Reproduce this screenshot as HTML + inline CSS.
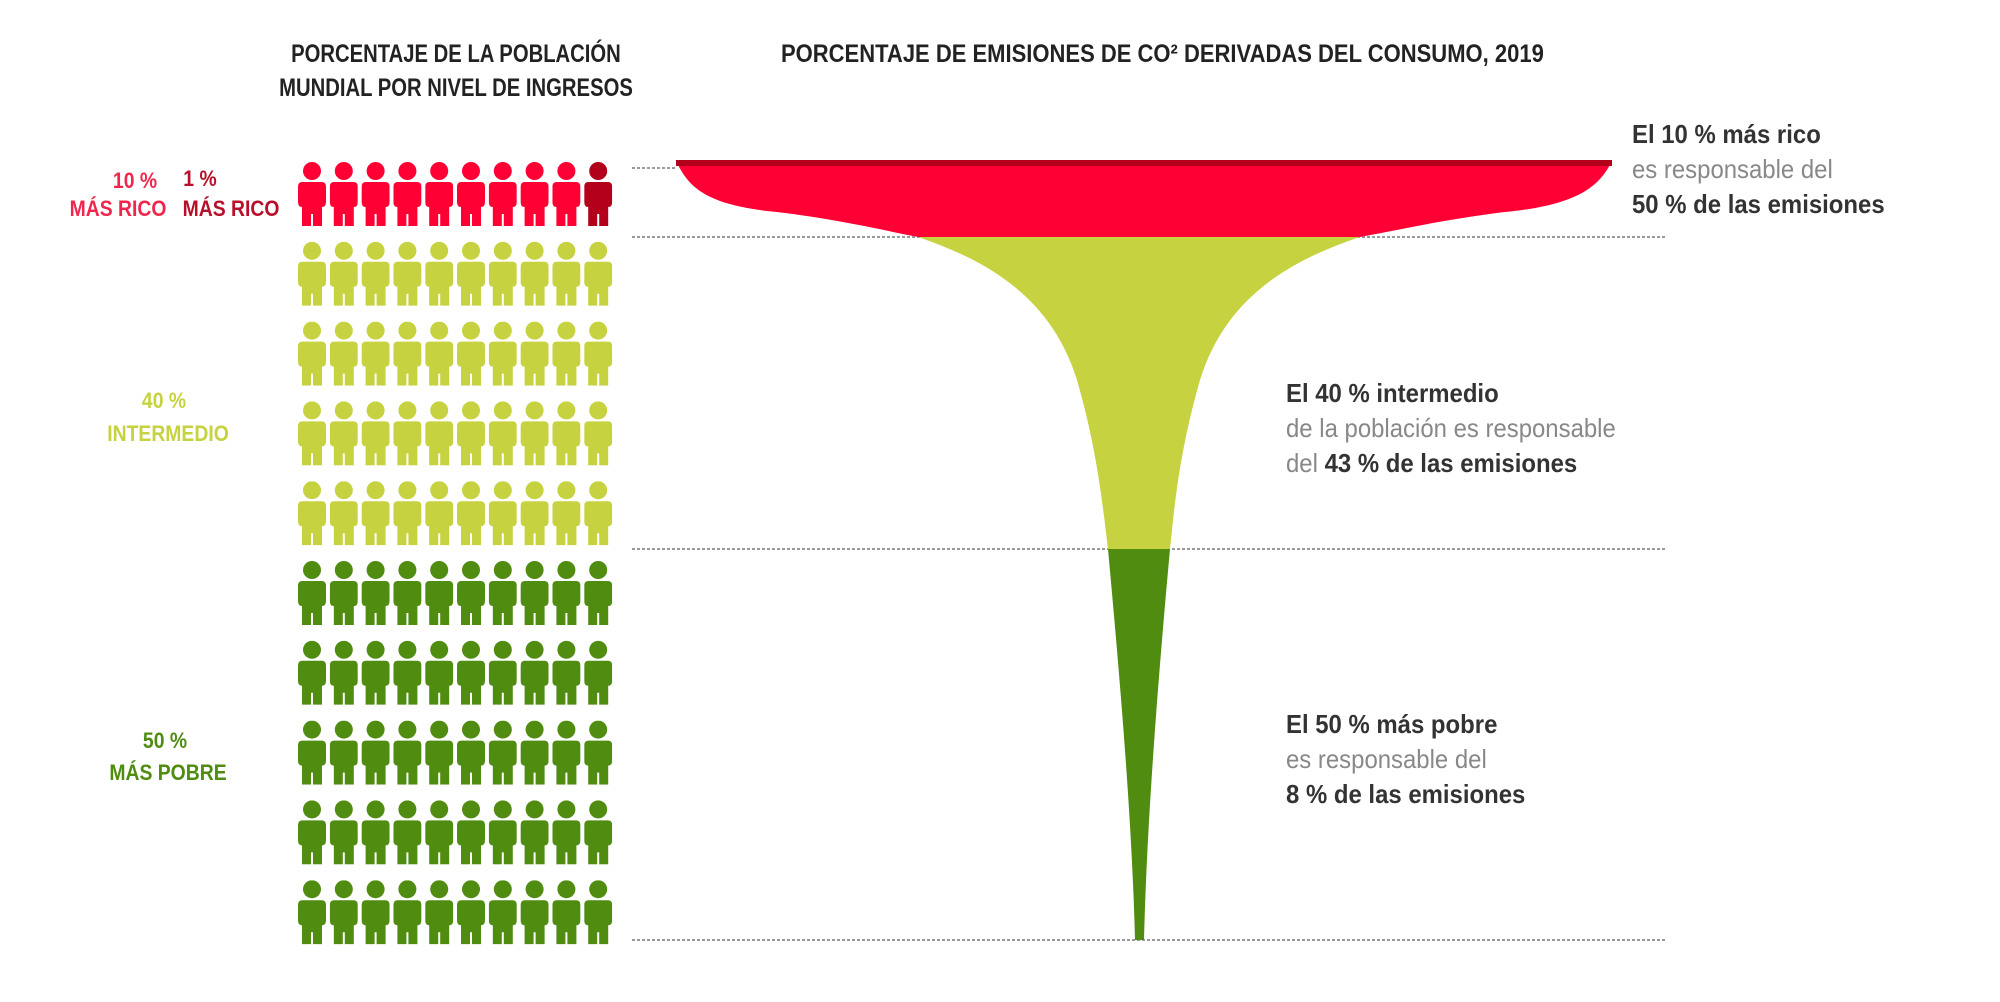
<!DOCTYPE html>
<html><head><meta charset="utf-8"><style>
html,body{margin:0;padding:0;background:#fff;}
body{width:2000px;height:1002px;overflow:hidden;position:relative;font-family:"Liberation Sans",sans-serif;}
.t{position:absolute;font-weight:bold;white-space:nowrap;transform-origin:0 0;transform:scaleX(0.92);}
.c{position:absolute;font-weight:bold;white-space:nowrap;width:800px;margin-left:-400px;text-align:center;transform-origin:50% 0;transform:scaleX(0.88);}
</style></head><body>
<svg width="2000" height="1002" style="position:absolute;left:0;top:0">
<defs>
<symbol id="p" viewBox="0 0 28 64">
<circle cx="14" cy="9" r="9"/>
<path d="M4 20 Q0 20 0 25 L0 40 Q0 45 4 45 L4 64 L13 64 L13 52 L15 52 L15 64 L24 64 L24 45 Q28 45 28 40 L28 25 Q28 20 24 20 Z"/>
</symbol>
</defs>
<g id="icons"></g>
<g stroke="#999" stroke-width="2" stroke-dasharray="3,2">
<line x1="632" y1="168" x2="676" y2="168"/>
<line x1="632" y1="237" x2="1666" y2="237"/>
<line x1="632" y1="549" x2="1666" y2="549"/>
<line x1="632" y1="940" x2="1666" y2="940"/>
</g>
<path fill="#ff0035" d="M676 161 L1612 161 C1600 185 1580 205 1505 212 C1440 220 1400 230 1360 237 L918 237 C882 230 842 220 777 212 C702 205 688 185 676 161 Z"/>
<rect x="676" y="160" width="936" height="6" fill="#b3001b"/>
<path fill="#c6d23f" d="M918 237 L1360 237 C1285 262 1225 300 1200 380 C1180 450 1175 500 1170 549 L1108 549 C1102 500 1097 450 1077 380 C1052 300 992 262 918 237 Z"/>
<path fill="#4f8c10" d="M1108 549 L1170 549 C1158 680 1147 820 1144 940 L1135 940 C1132 820 1120 680 1108 549 Z"/>
</svg>
<script>
var g=document.getElementById('icons'),s='';
for(var r=0;r<10;r++)for(var c=0;c<10;c++){
var col=r==0?(c==9?'#b3001b':'#ff0035'):(r<5?'#c6d23f':'#4f8c10');
s+='<use href="#p" x="'+(298+c*31.8)+'" y="'+(162+r*79.8)+'" width="28" height="64" fill="'+col+'"/>';}
g.innerHTML=s;
</script>
<div class="c" style="left:456px;top:40px;font-size:25px;color:#222;transform:scaleX(0.81);">PORCENTAJE DE LA POBLACIÓN</div>
<div class="c" style="left:456px;top:74px;font-size:25px;color:#222;transform:scaleX(0.81);">MUNDIAL POR NIVEL DE INGRESOS</div>
<div class="c" style="left:1133px;top:40px;font-size:25px;color:#222;">PORCENTAJE DE EMISIONES DE CO² DERIVADAS DEL CONSUMO, 2019</div>
<div class="c" style="left:135px;top:168px;font-size:22px;color:#f0274d;">10 %</div>
<div class="c" style="left:118px;top:196px;font-size:22px;color:#f0274d;">MÁS RICO</div>
<div class="c" style="left:200px;top:166px;font-size:22px;color:#b8102a;">1 %</div>
<div class="c" style="left:231px;top:196px;font-size:22px;color:#b8102a;">MÁS RICO</div>
<div class="c" style="left:164px;top:388px;font-size:22px;color:#c6d23f;">40 %</div>
<div class="c" style="left:168px;top:421px;font-size:22px;color:#c6d23f;">INTERMEDIO</div>
<div class="c" style="left:165px;top:728px;font-size:22px;color:#4f8c10;">50 %</div>
<div class="c" style="left:168px;top:760px;font-size:22px;color:#4f8c10;">MÁS POBRE</div>
<div class="t" style="left:1632px;top:117px;font-size:26px;color:#333;line-height:35px;font-weight:normal;"><b>El 10 % más rico</b><br><span style="color:#888">es responsable del</span><br><b>50 % de las emisiones</b></div>
<div class="t" style="left:1286px;top:376px;font-size:26px;color:#333;line-height:35px;font-weight:normal;"><b>El 40 % intermedio</b><br><span style="color:#888">de la población es responsable</span><br><span style="color:#888">del</span> <b>43 % de las emisiones</b></div>
<div class="t" style="left:1286px;top:707px;font-size:26px;color:#333;line-height:35px;font-weight:normal;"><b>El 50 % más pobre</b><br><span style="color:#888">es responsable del</span><br><b>8 % de las emisiones</b></div>
</body></html>
